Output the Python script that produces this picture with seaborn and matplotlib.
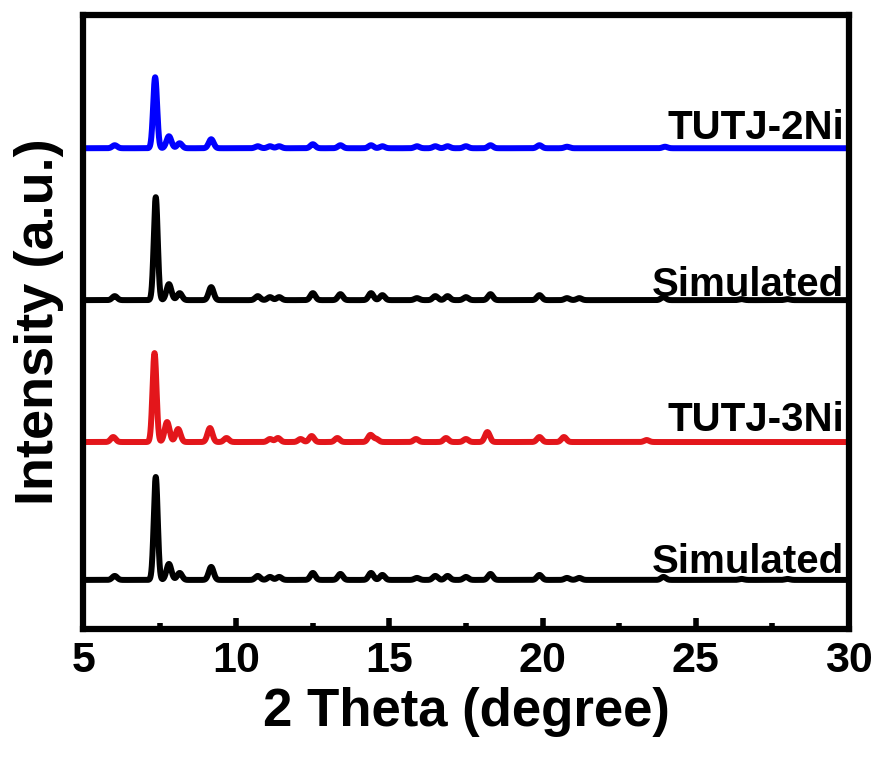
import numpy as np
import pandas as pd
import matplotlib
matplotlib.use("Agg")
import matplotlib.pyplot as plt
import seaborn as sns

# Reflection lists (2-theta position in degrees, relative peak height)
ni2_pos = [6.03, 7.35, 7.80, 8.15, 9.18, 10.7, 11.1, 11.4, 12.5, 13.4, 14.4, 14.77,
           15.9, 16.5, 16.9, 17.5, 18.3, 19.9, 20.8, 24.0]
ni2_int = [3, 71, 12, 5, 9, 2, 2, 2, 4, 3, 3, 2, 2, 2, 2, 2, 3, 3, 1.5, 1.5]

sim_pos = [6.03, 7.37, 7.80, 8.15, 9.18, 10.7, 11.1, 11.4, 12.5, 13.4, 14.4, 14.77,
           15.9, 16.5, 16.9, 17.5, 18.3, 19.9, 20.8, 21.2, 23.95, 26.5, 28.0]
sim_int = [4, 103, 16, 7, 13, 4, 3, 3, 7, 6, 7, 5, 2, 4, 4, 3, 6, 5, 2, 2, 3, 1, 1]

ni3_pos = [5.98, 7.33, 7.74, 8.10, 9.14, 9.68, 11.1, 11.36, 12.1, 12.46, 13.3, 14.38,
           14.57, 15.87, 16.85, 17.5, 18.2, 19.9, 20.7, 23.4]
ni3_int = [5, 89, 20, 13, 14, 4, 3, 4, 3, 6, 4, 7, 3, 3, 4, 3, 10, 5, 5, 2]

# Vertical stacking offsets and curve styling
labels = ["Simulated", "TUTJ-3Ni", "Simulated ", "TUTJ-2Ni"]
offsets = [49, 187, 329, 481]
colors = ["#000000", "#E3161B", "#000000", "#0000FF"]

two_theta = np.linspace(5, 30, 5001)


def profile(pos, amp):
    y = np.zeros_like(two_theta)
    for p, a in zip(pos, amp):
        w = 0.065 if a > 50 else 0.08
        y += a * np.exp(-0.5 * ((two_theta - p) / w) ** 2)
    return y


patterns = [(sim_pos, sim_int), (ni3_pos, ni3_int), (sim_pos, sim_int), (ni2_pos, ni2_int)]
frames = []
for lab, off, (p, a) in zip(labels, offsets, patterns):
    frames.append(pd.DataFrame({"two_theta": two_theta,
                                "intensity": profile(p, a) + off,
                                "sample": lab}))
df = pd.concat(frames, ignore_index=True)

sns.set_style("ticks", {"axes.edgecolor": "black", "text.color": "black",
                        "xtick.color": "black", "ytick.color": "black",
                        "axes.labelcolor": "black"})
plt.rcParams["font.family"] = ["Liberation Sans", "DejaVu Sans"]
plt.rcParams["font.weight"] = "bold"

fig = plt.figure(figsize=(8.85, 7.66), dpi=100)
ax = fig.add_axes([0.094, 0.179, 0.865, 0.801])

sns.lineplot(data=df, x="two_theta", y="intensity", hue="sample",
             palette=dict(zip(labels, colors)), linewidth=4.3, legend=False,
             ax=ax, sort=False, estimator=None)

ax.set_xlim(5, 30)
ax.set_ylim(0, 614)
ax.set_xticks([5, 10, 15, 20, 25, 30])
ax.set_xticks([7.5, 12.5, 17.5, 22.5, 27.5], minor=True)
ax.set_yticks([])
ax.tick_params(axis="x", which="major", direction="in", length=8, width=4,
               labelsize=31, pad=9, colors="black")
ax.tick_params(axis="x", which="minor", direction="in", length=4, width=4,
               colors="black")
for lbl in ax.get_xticklabels():
    lbl.set_fontweight("bold")
for sp in ax.spines.values():
    sp.set_visible(True)
    sp.set_linewidth(4.5)
    sp.set_color("black")

ax.set_xlabel("2 Theta (degree)", fontsize=38, fontweight="bold", labelpad=4)
ax.set_ylabel("Intensity (a.u.)", fontsize=39, fontweight="bold", labelpad=14)

# Sample names at the right end of each curve
name_y = [56, 198, 333, 490]
for txt, yy in zip(["Simulated", "TUTJ-3Ni", "Simulated", "TUTJ-2Ni"], name_y):
    ax.text(29.85, yy, txt, ha="right", va="baseline", fontsize=29,
            fontweight="bold", color="black")

fig.savefig("out.png", dpi=100)
